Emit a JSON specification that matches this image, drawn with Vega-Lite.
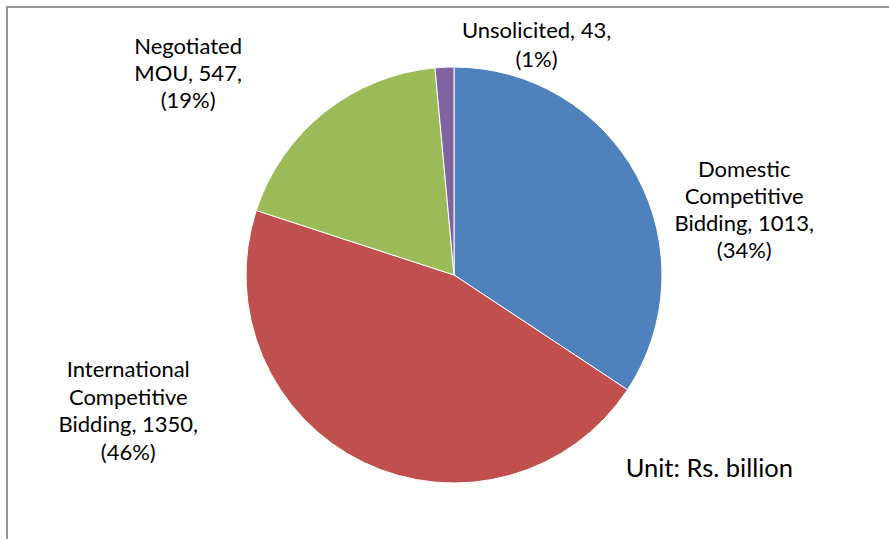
{
  "$schema": "https://vega.github.io/schema/vega-lite/v6.json",
  "autosize": {"type": "none"},
  "padding": {"left": 7, "top": 7, "right": -12, "bottom": -4},
  "width": 894,
  "height": 536,
  "background": "white",
  "view": {"stroke": "#969696", "strokeWidth": 2, "fill": "white"},
  "config": {"view": {"stroke": "#969696", "strokeWidth": 2}, "font": "Lato"},
  "title": {"text": "Unit: Rs. billion", "orient": "bottom", "anchor": "end", "frame": "group", "offset": 0, "baseline": "middle", "dx": -108, "dy": -74, "fontSize": 25.5, "fontWeight": "normal", "font": "Lato", "color": "#000000"},
  "data": {"values": [
    {"cat": "Domestic", "value": 1013, "ord": 1, "label": "Domestic\nCompetitive\nBidding, 1013,\n(34%)"},
    {"cat": "International", "value": 1350, "ord": 2, "label": "International\nCompetitive\nBidding, 1350,\n(46%)"},
    {"cat": "Negotiated", "value": 547, "ord": 3, "label": "Negotiated\nMOU, 547,\n(19%)"},
    {"cat": "Unsolicited", "value": 43, "ord": 4, "label": "Unsolicited, 43,\n(1%)"}
  ]},
  "encoding": {
    "theta": {"field": "value", "type": "quantitative", "stack": true},
    "order": {"field": "ord", "type": "quantitative"}
  },
  "layer": [
    {
      "mark": {"type": "arc", "outerRadius": 208, "stroke": "#ffffff", "strokeWidth": 1},
      "encoding": {
        "color": {"field": "cat", "type": "nominal", "legend": null,
          "scale": {"domain": ["Domestic", "International", "Negotiated", "Unsolicited"], "range": ["#4F81BD", "#C0504D", "#9BBB59", "#8064A2"]}}
      }
    },
    {
      "mark": {"type": "text", "radius": 250, "dx": 70, "dy": 20, "align": "center", "baseline": "alphabetic", "lineBreak": "\n", "lineHeight": 27, "fontSize": 22, "font": "Lato", "fill": "#000000"},
      "encoding": {"detail": {"field": "cat"}, "text": {"field": "label", "type": "nominal", "condition": {"test": "datum.cat !== 'Domestic'", "value": ""}}}
    },
    {
      "mark": {"type": "text", "radius": 250, "dx": -217, "dy": -123, "align": "center", "baseline": "alphabetic", "lineBreak": "\n", "lineHeight": 27.5, "fontSize": 22, "font": "Lato", "fill": "#000000"},
      "encoding": {"detail": {"field": "cat"}, "text": {"field": "label", "type": "nominal", "condition": {"test": "datum.cat !== 'International'", "value": ""}}}
    },
    {
      "mark": {"type": "text", "radius": 250, "dx": -110, "dy": -26, "align": "center", "baseline": "alphabetic", "lineBreak": "\n", "lineHeight": 27, "fontSize": 22, "font": "Lato", "fill": "#000000"},
      "encoding": {"detail": {"field": "cat"}, "text": {"field": "label", "type": "nominal", "condition": {"test": "datum.cat !== 'Negotiated'", "value": ""}}}
    },
    {
      "mark": {"type": "text", "radius": 250, "dx": 94, "dy": 13, "align": "center", "baseline": "alphabetic", "lineBreak": "\n", "lineHeight": 29, "fontSize": 22, "font": "Lato", "fill": "#000000"},
      "encoding": {"detail": {"field": "cat"}, "text": {"field": "label", "type": "nominal", "condition": {"test": "datum.cat !== 'Unsolicited'", "value": ""}}}
    }
  ]
}
